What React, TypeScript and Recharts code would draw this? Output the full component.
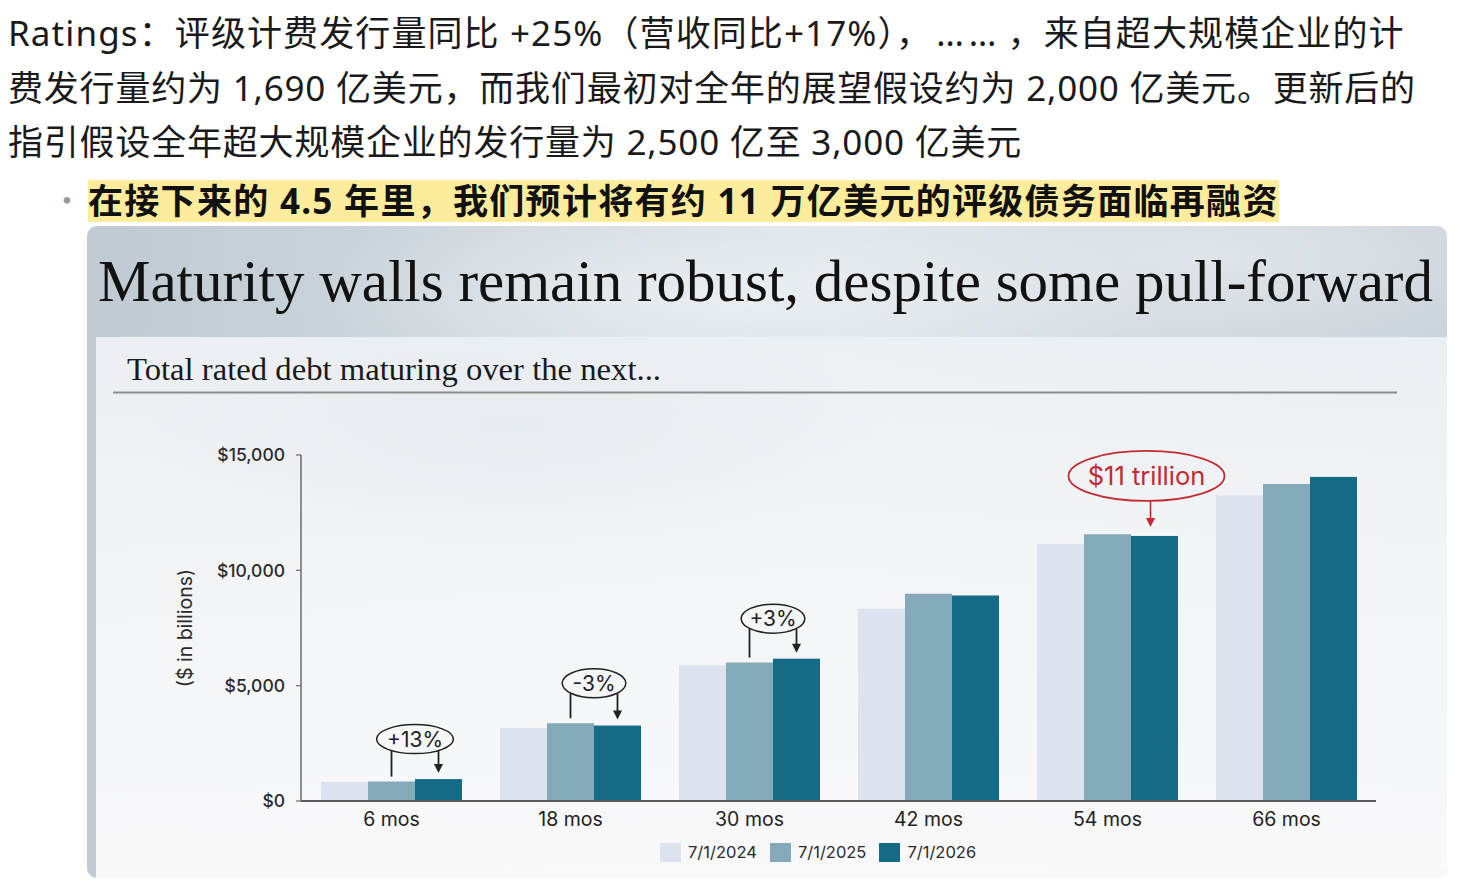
import React from "react";
import { BarChart, Bar, XAxis, YAxis, Legend } from "recharts";

const categories = ["6 mos", "18 mos", "30 mos", "42 mos", "54 mos", "66 mos"];
const debt2024 = [820, 3170, 5880, 8330, 11140, 13260];
const debt2025 = [840, 3370, 6000, 8980, 11560, 13740];
const debt2026 = [950, 3270, 6170, 8910, 11490, 14050];
const changeLabels = ["+13%", "-3%", "+3%", "", "", ""];
const calloutLabels = ["", "", "", "", "$11 trillion", ""];
const yTicks = [0, 5000, 10000, 15000];
const seriesNames = ["7/1/2024", "7/1/2025", "7/1/2026"];

const data = categories.map((name, i) => ({
  name,
  d2024: debt2024[i],
  d2025: debt2025[i],
  d2026: debt2026[i],
}));

const COLORS = ["#dde3ee", "#84a9b8", "#146b86"];
const INK = "#222";
const RED = "#c42a30";
const CHART_FONT = "Inter, 'Liberation Sans', Arial, sans-serif";
const TEXT_FONT = "'Noto Sans', 'Noto Sans CJK SC', sans-serif";

const fmtDollar = (v: number) => "$" + v.toLocaleString("en-US");

// dark bar + the bracket / callout drawn on top of it
function DarkBar(props: any) {
  const { x, y, width, height, index, fill } = props;
  const change = changeLabels[index];
  const callout = calloutLabels[index];
  const base = y + height;
  const midTop = base - (debt2025[index] / debt2026[index]) * height;
  const darkCx = x + width / 2;
  const midCx = x - width / 2;

  let extra = null;
  if (change) {
    const cy = Math.min(midTop, y) - 40;
    const rx = 12 + change.length * 6.6;
    const ry = 14.5;
    const half = width / 2;
    const edge = ry * Math.sqrt(Math.max(0, 1 - (half / rx) * (half / rx)));
    extra = (
      <g>
        <ellipse cx={x} cy={cy} rx={rx} ry={ry} fill="none" stroke={INK} strokeWidth={1.5} />
        <text x={x} y={cy + 7.5} textAnchor="middle" fontSize={21} fontFamily={CHART_FONT} fill={INK}>
          {change}
        </text>
        <line x1={midCx} y1={cy + edge} x2={midCx} y2={midTop - 5} stroke={INK} strokeWidth={1.8} />
        <line x1={darkCx} y1={cy + edge} x2={darkCx} y2={y - 14} stroke={INK} strokeWidth={1.8} />
        <path d={`M${darkCx - 4.5},${y - 15} L${darkCx + 4.5},${y - 15} L${darkCx},${y - 6} Z`} fill={INK} />
      </g>
    );
  } else if (callout) {
    const cx = darkCx - 8;
    const cy = y - 60;
    const ry = 25;
    const ax = darkCx - 4;
    extra = (
      <g>
        <ellipse cx={cx} cy={cy} rx={78} ry={ry} fill="none" stroke={RED} strokeWidth={1.8} />
        <text x={cx} y={cy + 9} textAnchor="middle" fontSize={25.5} fontFamily={CHART_FONT} fill={RED}>
          {callout}
        </text>
        <line x1={ax} y1={cy + ry} x2={ax} y2={y - 17} stroke={RED} strokeWidth={1.6} />
        <path d={`M${ax - 4.5},${y - 18} L${ax + 4.5},${y - 18} L${ax},${y - 9} Z`} fill={RED} />
      </g>
    );
  }

  return (
    <g>
      <rect x={x} y={y} width={width} height={height} fill={fill} />
      {extra}
    </g>
  );
}

function LegendBox(props: any) {
  const items = props.payload || [];
  return (
    <div style={{ display: "flex", alignItems: "center", fontFamily: CHART_FONT, fontSize: 16.5, color: "#2b2b2b" }}>
      {items.map((it: any, i: number) => (
        <div key={i} style={{ display: "flex", alignItems: "center", marginRight: 13 }}>
          <span style={{ display: "inline-block", width: 21, height: 19, background: it.color, marginRight: 7 }} />
          <span>{it.value}</span>
        </div>
      ))}
    </div>
  );
}

function YLabel(props: any) {
  const vb = props.viewBox;
  const cx = vb.x - 56;
  const cy = vb.y + vb.height / 2;
  return (
    <text
      x={cx}
      y={cy}
      transform={`rotate(-90 ${cx} ${cy})`}
      textAnchor="middle"
      dominantBaseline="central"
      fontSize={19.5}
      fontFamily={CHART_FONT}
      fill="#2b2b2b"
    >
      ($ in billions)
    </text>
  );
}

export default function App() {
  return (
    <div style={{ position: "absolute", left: 0, top: 0, width: 1465, height: 884, background: "#fff", overflow: "hidden" }}>
      {/* image backdrop: sky header + pale panel */}
      <div
        style={{
          position: "absolute",
          left: 87,
          top: 226,
          width: 1360,
          height: 652,
          borderRadius: 10,
          overflow: "hidden",
          background:
            "radial-gradient(ellipse 420px 110px at 640px 70px, rgba(236,240,243,0.85), rgba(236,240,243,0)), " +
            "radial-gradient(ellipse 520px 140px at 1120px 30px, rgba(232,236,240,0.7), rgba(232,236,240,0)), " +
            "radial-gradient(ellipse 300px 200px at 60px 260px, rgba(196,206,214,0.5), rgba(196,206,214,0)), " +
            "linear-gradient(90deg, #bfcad2 0%, #cfd8de 30%, #dce2e7 55%, #cbd4db 80%, #c4ced6 100%)",
        }}
      >
        <div
          style={{
            position: "absolute",
            left: 9,
            top: 111,
            right: 0,
            bottom: 0,
            background:
              "radial-gradient(ellipse 380px 120px at 420px 90px, rgba(226,231,235,0.6), rgba(226,231,235,0)), " +
              "linear-gradient(180deg, rgba(238,241,244,0.94) 0%, rgba(243,245,247,0.96) 35%, rgba(249,249,250,0.99) 100%)",
          }}
        />
      </div>

      {/* article text */}
      <div
        style={{
          position: "absolute",
          left: 8,
          top: 6,
          fontFamily: TEXT_FONT,
          fontSize: 35,
          letterSpacing: 0.8,
          lineHeight: "54.5px",
          color: "#1a1a1a",
          whiteSpace: "nowrap",
        }}
      >
        <div style={{ letterSpacing: 1.1 }}>
          Ratings：评级计费发行量同比 +25%（营收同比+17%），
          <span style={{ letterSpacing: 5, paddingLeft: 4, paddingRight: 6 }}>……</span>，来自超大规模企业的计
        </div>
        <div>费发行量约为 1,690 亿美元，而我们最初对全年的展望假设约为 2,000 亿美元。更新后的</div>
        <div>指引假设全年超大规模企业的发行量为 2,500 亿至 3,000 亿美元</div>
      </div>
      <div style={{ position: "absolute", left: 62, top: 180, height: 42, lineHeight: "42px", fontSize: 28, color: "#9a9a9a" }}>•</div>
      <div
        style={{
          position: "absolute",
          left: 88,
          top: 180,
          height: 42,
          lineHeight: "42px",
          fontFamily: TEXT_FONT,
          fontSize: 35,
          letterSpacing: 1.3,
          fontWeight: 700,
          color: "#111",
          background: "#fcec9c",
          whiteSpace: "nowrap",
        }}
      >
        在接下来的 4.5 年里，我们预计将有约 11 万亿美元的评级债务面临再融资
      </div>

      {/* slide title */}
      <svg width={1465} height={884} style={{ position: "absolute", left: 0, top: 0 }}>
        <text x={98} y={301} fontFamily="'Liberation Serif', 'DejaVu Serif', serif" fontSize={60} fill="#121212" textLength={1335} lengthAdjust="spacingAndGlyphs">
          Maturity walls remain robust, despite some pull-forward
        </text>
        <text x={127} y={380} fontFamily="'Liberation Serif', 'DejaVu Serif', serif" fontSize={31} fill="#1a1a1a" textLength={534} lengthAdjust="spacingAndGlyphs">
          Total rated debt maturing over the next...
        </text>
        <line x1={113} y1={392.5} x2={1397} y2={392.5} stroke="#8c8c8c" strokeWidth={1.8} />
      </svg>

      {/* the chart */}
      <div style={{ position: "absolute", left: 0, top: 0 }}>
        <BarChart
          width={1465}
          height={884}
          data={data}
          margin={{ top: 455, right: 89, bottom: 53, left: 241 }}
          barCategoryGap={19}
          barGap={0}
        >
          <XAxis
            dataKey="name"
            height={30}
            padding={{ left: 1, right: 0 }}
            axisLine={{ stroke: "#5a5a5a", strokeWidth: 2.2 }}
            tickLine={false}
            tickSize={0}
            tickMargin={11}
            tick={{ fontSize: 19.5, fontFamily: CHART_FONT, fill: "#222" }}
          />
          <YAxis
            width={60}
            domain={[0, 15000]}
            ticks={yTicks}
            tickFormatter={fmtDollar}
            axisLine={{ stroke: "#6a6a6a", strokeWidth: 1.5 }}
            tickLine={{ stroke: "#6a6a6a", strokeWidth: 1.2 }}
            tickSize={5}
            tickMargin={11}
            tick={{ fontSize: 17.5, fontFamily: CHART_FONT, fontWeight: 500, fill: "#2b2b2b" }}
            label={{ content: YLabel }}
          />
          <Legend
            verticalAlign="middle"
            align="center"
            content={LegendBox}
            wrapperStyle={{ left: 660, top: 842, width: 360, height: 22 }}
          />
          <Bar dataKey="d2024" name={seriesNames[0]} fill={COLORS[0]} isAnimationActive={false} />
          <Bar dataKey="d2025" name={seriesNames[1]} fill={COLORS[1]} isAnimationActive={false} />
          <Bar dataKey="d2026" name={seriesNames[2]} fill={COLORS[2]} isAnimationActive={false} shape={DarkBar} />
        </BarChart>
      </div>
    </div>
  );
}
